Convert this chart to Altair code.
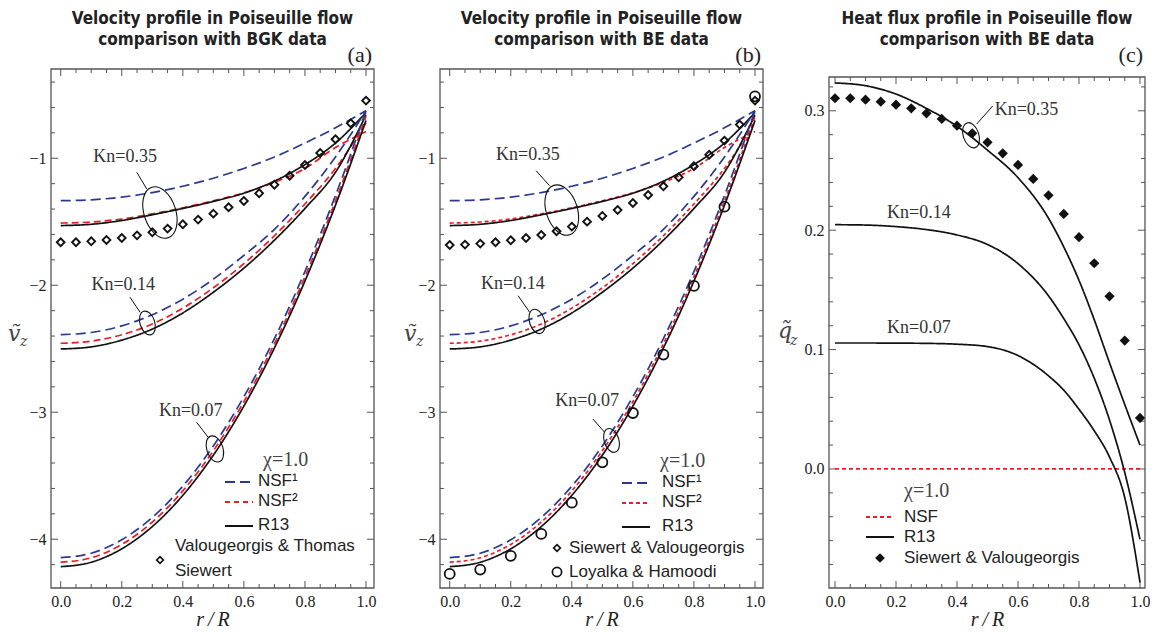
import altair as alt
import pandas as pd

SERIF = "Liberation Serif"
SANS = "Liberation Sans"
TFONT = "Liberation Sans Narrow, DejaVu Sans Condensed, Liberation Sans"
GLYPH = "DejaVu Serif"
BLUE = "#2b3990"
RED = "#ed1c24"
BLACK = "#111111"
INK = "#222222"
FRAME = "#555555"

# ---------------- velocity model curves (panels a, b) ----------------
R = [0.0, 0.1, 0.2, 0.3, 0.4, 0.5, 0.6, 0.7, 0.8, 0.9, 1.0]
V35_NSF1 = [-1.334, -1.327, -1.306, -1.270, -1.220, -1.157, -1.080, -0.990, -0.880, -0.760, -0.625]
V35_NSF2 = [-1.510, -1.502, -1.478, -1.438, -1.390, -1.335, -1.272, -1.190, -1.080, -0.915, -0.790]
V35_R13 = [-1.530, -1.520, -1.490, -1.445, -1.395, -1.340, -1.275, -1.180, -1.050, -0.880, -0.640]
V14_NSF1 = [-2.389, -2.372, -2.320, -2.232, -2.110, -1.952, -1.765, -1.560, -1.300, -0.990, -0.625]
V14_NSF2 = [-2.457, -2.440, -2.390, -2.305, -2.180, -2.020, -1.830, -1.610, -1.360, -1.080, -0.720]
V14_R13 = [-2.502, -2.485, -2.432, -2.345, -2.218, -2.055, -1.865, -1.645, -1.395, -1.110, -0.660]
V07_NSF1 = [-4.145, -4.110, -4.004, -3.828, -3.582, -3.265, -2.878, -2.420, -1.892, -1.294, -0.625]
V07_NSF2 = [-4.181, -4.146, -4.041, -3.865, -3.619, -3.303, -2.917, -2.461, -1.934, -1.337, -0.670]
V07_R13 = [-4.216, -4.181, -4.075, -3.900, -3.654, -3.338, -2.951, -2.494, -1.967, -1.370, -0.702]

# ---------------- kinetic data ----------------
R_DENSE = [0.0, 0.05, 0.1, 0.15, 0.2, 0.25, 0.3, 0.35, 0.4, 0.45, 0.5,
           0.55, 0.6, 0.65, 0.7, 0.75, 0.8, 0.85, 0.9, 0.95, 1.0]
BGK_VT = [-1.661, -1.661, -1.654, -1.643, -1.628, -1.607, -1.583, -1.554, -1.520, -1.483, -1.436,
          -1.386, -1.336, -1.276, -1.208, -1.137, -1.053, -0.958, -0.850, -0.724, -0.546]
BE_SV = [-1.683, -1.680, -1.672, -1.661, -1.646, -1.628, -1.604, -1.575, -1.538, -1.499, -1.454,
         -1.407, -1.352, -1.289, -1.221, -1.150, -1.063, -0.972, -0.861, -0.735, -0.546]
R_LH = [0.0, 0.1, 0.2, 0.3, 0.4, 0.5, 0.6, 0.7, 0.8, 0.9, 1.0]
BE_LH = [-4.273, -4.239, -4.131, -3.958, -3.712, -3.394, -3.006, -2.546, -2.005, -1.381, -0.512]

# ---------------- heat flux (panel c) ----------------
R_HEAT = [0.0, 0.1, 0.2, 0.3, 0.4, 0.5, 0.6, 0.7, 0.75, 0.8, 0.85, 0.9, 0.95, 1.0]
Q35_R13 = [0.3233, 0.3210, 0.3140, 0.3020, 0.2870, 0.2670, 0.2440, 0.2100, 0.1860, 0.1580, 0.1250, 0.0890, 0.0540, 0.0200]
Q14_R13 = [0.2046, 0.2043, 0.2030, 0.2005, 0.1960, 0.1880, 0.1720, 0.1450, 0.1260, 0.1040, 0.0760, 0.0410, -0.0030, -0.0590]
Q07_R13 = [0.1055, 0.1055, 0.1054, 0.1052, 0.1045, 0.1025, 0.0950, 0.0780, 0.0660, 0.0500, 0.0320, 0.0100, -0.0240, -0.0950]
R_NSF = [0.0, 1.0]
Q_NSF = [0.0, 0.0]
HEAT_SV = [0.3105, 0.3105, 0.3093, 0.3076, 0.3051, 0.3021, 0.2979, 0.2932, 0.2875, 0.2811, 0.2736,
           0.2644, 0.2546, 0.2429, 0.2292, 0.2136, 0.1941, 0.1723, 0.1446, 0.1075, 0.0427]

# ---------------- ticks ----------------
X_LABELS = [0.0, 0.2, 0.4, 0.6, 0.8, 1.0]
X_MINOR = [0.05, 0.1, 0.15, 0.25, 0.3, 0.35, 0.45, 0.5, 0.55, 0.65, 0.7, 0.75, 0.85, 0.9, 0.95]
V_LABELS = [-4, -3, -2, -1]
V_MINOR = [-4.2, -3.8, -3.6, -3.4, -3.2, -2.8, -2.6, -2.4, -2.2, -1.8, -1.6, -1.4, -1.2, -0.8, -0.6, -0.4]
Q_LABELS = [0.0, 0.1, 0.2, 0.3]
Q_MINOR = [-0.08, -0.06, -0.04, -0.02, 0.02, 0.04, 0.06, 0.08, 0.12, 0.14, 0.16, 0.18,
           0.22, 0.24, 0.26, 0.28, 0.32]

# ---------------- annotations ----------------
KN_NAMES = ["Kn=0.35", "Kn=0.14", "Kn=0.07"]
A_TXT_R = [0.211, 0.205, 0.426]
A_TXT_V = [-0.99, -2.0, -2.987]
A_ELL_R = [0.325, 0.284, 0.505]
A_ELL_V = [-1.427, -2.297, -3.289]
A_ELL_S = [2809, 600, 729]
A_LEAD = [(0.249, -1.110, 0.282, -1.242), (0.227, -2.094, 0.260, -2.213), (0.445, -3.079, 0.483, -3.197)]
B_TXT_R = [0.256, 0.207, 0.450]
B_TXT_V = [-0.976, -1.99, -2.915]
B_ELL_R = [0.367, 0.286, 0.530]
B_ELL_V = [-1.408, -2.285, -3.222]
B_ELL_S = [2704, 625, 600]
B_LEAD = [(0.283, -1.098, 0.327, -1.216), (0.224, -2.082, 0.262, -2.213), (0.469, -3.053, 0.507, -3.157)]
C_TXT_R = [0.628, 0.275, 0.275]
C_TXT_V = [0.3008, 0.2142, 0.118]
C_ELL_R = [0.446]
C_ELL_V = [0.2795]
C_ELL_S = [676]
C_LEAD = [(0.465, 0.289, 0.517, 0.304)]

# one shared style scale for all model curves
MODELS = ["NSF1", "NSF2a", "NSF2b", "R13", "NSF"]
MODEL_COLORS = [BLUE, RED, RED, BLACK, RED]
MODEL_DASHES = [[10, 5], [7, 4], [4, 3], [1, 0], [4, 3]]

ELLIPSE = "M0,-1A0.6,1,0,1,1,0,1A0.6,1,0,1,1,0,-1Z"
DUMMY = pd.DataFrame({"d": [0]})


def curves(groups):
    rows = []
    for rs, vs, model, kn in groups:
        for r, v in zip(rs, vs):
            rows.append({"r": r, "v": v, "model": model, "kn": kn})
    return pd.DataFrame(rows)


def txt(x, y, s, font, size, align="left", style="normal", color=INK, weight="normal"):
    return alt.Chart(DUMMY).mark_text(text=s, font=font, fontSize=size, align=align,
                                      baseline="middle", fontStyle=style, color=color,
                                      fontWeight=weight).encode(x=alt.value(x), y=alt.value(y))


def seg(x1, x2, y, color, dash, width=1.8):
    return alt.Chart(DUMMY).mark_rule(color=color, strokeDash=dash, strokeWidth=width).encode(
        x=alt.value(x1), x2=alt.value(x2), y=alt.value(y))


def sym(x, y, shape, size, filled, sw=1.7):
    return alt.Chart(DUMMY).mark_point(shape=shape, size=size, filled=filled, color=BLACK,
                                       strokeWidth=sw, opacity=1).encode(x=alt.value(x), y=alt.value(y))


def panel(W, H, top, xdom, ydom, ylabels, yfmt, yminor, ymajor_ticks, line_df,
          extra, title, tag, ann):
    X = alt.X("r:Q", scale=alt.Scale(domain=xdom, nice=False, zero=False),
              axis=alt.Axis(values=X_LABELS, format=".1f", ticks=False, domain=False, grid=False,
                            labelPadding=5, labelFlush=False, title="r\u2009/\u2009R",
                            titleFont=SERIF, titleFontStyle="italic", titleFontWeight="normal",
                            titleFontSize=20, titlePadding=0, titleColor=INK))
    Y = alt.Y("v:Q", scale=alt.Scale(domain=ydom, nice=False, zero=False),
              axis=alt.Axis(values=ylabels, format=yfmt, ticks=False, domain=False, grid=False,
                            labelPadding=5, title=None))
    layers = []
    layers.append(alt.Chart(DUMMY).mark_rect(filled=False, stroke=FRAME, strokeWidth=1.3).encode(
        x=alt.value(0), x2=alt.value(W), y=alt.value(top), y2=alt.value(H)))
    for vals, ln in ((X_MINOR, 4), (X_LABELS, 7)):
        d = pd.DataFrame({"r": vals})
        layers.append(alt.Chart(d).mark_rule(color=FRAME, strokeWidth=1).encode(
            x=X, y=alt.value(H), y2=alt.value(H - ln)))
        layers.append(alt.Chart(d).mark_rule(color=FRAME, strokeWidth=1).encode(
            x=X, y=alt.value(top), y2=alt.value(top + ln)))
    for vals, ln in ((yminor, 4), (ymajor_ticks, 7)):
        d = pd.DataFrame({"v": vals})
        layers.append(alt.Chart(d).mark_rule(color=FRAME, strokeWidth=1).encode(
            y=Y, x=alt.value(0), x2=alt.value(ln)))
        layers.append(alt.Chart(d).mark_rule(color=FRAME, strokeWidth=1).encode(
            y=Y, x=alt.value(W), x2=alt.value(W - ln)))
    layers.append(alt.Chart(line_df).mark_line(strokeWidth=1.7, interpolate="monotone", clip=True).encode(
        x=X, y=Y,
        color=alt.Color("model:N", scale=alt.Scale(domain=MODELS, range=MODEL_COLORS), legend=None),
        strokeDash=alt.StrokeDash("model:N", scale=alt.Scale(domain=MODELS, range=MODEL_DASHES),
                                  legend=None),
        detail="kn:N"))
    for e in extra(X, Y):
        layers.append(e)
    # annotations
    tr, tv, er, ev, es, leads = ann
    tdf = pd.DataFrame({"r": tr, "v": tv, "label": KN_NAMES})
    layers.append(alt.Chart(tdf).mark_text(font=SERIF, fontSize=18, color="#333333").encode(
        x=X, y=Y, text="label:N"))
    edf = pd.DataFrame({"r": er, "v": ev, "s": es, "ang": [342] * len(er)})
    layers.append(alt.Chart(edf).mark_point(shape=ELLIPSE, filled=False, color=BLACK, strokeWidth=1.1,
                                            opacity=1).encode(
        x=X, y=Y, size=alt.Size("s:Q", scale=None), angle=alt.Angle("ang:Q", scale=None)))
    ldf = pd.DataFrame({"r": [l[0] for l in leads], "v": [l[1] for l in leads],
                        "r2": [l[2] for l in leads], "v2": [l[3] for l in leads]})
    layers.append(alt.Chart(ldf).mark_rule(color=BLACK, strokeWidth=1.0).encode(
        x=X, y=Y, x2="r2:Q", y2="v2:Q"))
    layers.append(txt(W - 2, -14, tag, SERIF, 22, align="right", color=INK))
    return alt.layer(*layers).properties(
        width=W, height=H,
        title=alt.TitleParams(title, font=TFONT, fontSize=17, fontWeight="bold", color=INK,
                              anchor="middle", offset=-5, lineHeight=21, frame="group"))


# ---------------- panel a ----------------
WA, HA = 323, 519


def vel_lines(red):
    return curves([
        (R, V35_NSF1, "NSF1", "0.35"), (R, V35_NSF2, red, "0.35"), (R, V35_R13, "R13", "0.35"),
        (R, V14_NSF1, "NSF1", "0.14"), (R, V14_NSF2, red, "0.14"), (R, V14_R13, "R13", "0.14"),
        (R, V07_NSF1, "NSF1", "0.07"), (R, V07_NSF2, red, "0.07"), (R, V07_R13, "R13", "0.07"),
    ])


def extra_a(X, Y):
    d = pd.DataFrame({"r": R_DENSE, "v": BGK_VT})
    out = [alt.Chart(d).mark_point(shape="diamond", size=60, filled=False, color=BLACK,
                                   strokeWidth=1.9, opacity=1).encode(x=X, y=Y)]
    out += [
        txt(-43, 265, "\u1e7d", GLYPH, 22, style="italic", color="#444444"),
        txt(-31, 273, "z", GLYPH, 14, style="italic", color="#444444"),
        txt(212, 391, "\u03c7=1.0", SERIF, 20, color="#444444"),
        seg(174, 202, 413, BLUE, [10, 5]), txt(207, 412, "NSF\u00b9", SANS, 17),
        seg(174, 202, 433, RED, [5, 4]), txt(207, 432, "NSF\u00b2", SANS, 17),
        seg(174, 202, 457, BLACK, [1, 0]), txt(207, 456, "R13", SANS, 17),
        sym(109, 491, "diamond", 45, False),
        txt(124, 477, "Valougeorgis & Thomas", SANS, 17),
        txt(124, 502, "Siewert", SANS, 17),
    ]
    return out


pa = panel(WA, HA, 0, [-0.0318, 1.0262], [-4.384, -0.297], V_LABELS, "d", V_MINOR, V_LABELS,
           vel_lines("NSF2a"), extra_a,
           ["Velocity profile in Poiseuille flow", "comparison with BGK data"], "(a)",
           (A_TXT_R, A_TXT_V, A_ELL_R, A_ELL_V, A_ELL_S, A_LEAD))


# ---------------- panel b ----------------
def extra_b(X, Y):
    d = pd.DataFrame({"r": R_DENSE, "v": BE_SV})
    d2 = pd.DataFrame({"r": R_LH, "v": BE_LH})
    out = [alt.Chart(d).mark_point(shape="diamond", size=60, filled=False, color=BLACK,
                                   strokeWidth=1.9, opacity=1).encode(x=X, y=Y),
           alt.Chart(d2).mark_point(shape="circle", size=100, filled=False, color=BLACK,
                                    strokeWidth=1.8, opacity=1).encode(x=X, y=Y)]
    out += [
        txt(-36, 265, "\u1e7d", GLYPH, 22, style="italic", color="#444444"),
        txt(-24, 273, "z", GLYPH, 14, style="italic", color="#444444"),
        txt(220, 392, "\u03c7=1.0", SERIF, 20, color="#444444"),
        seg(182, 210, 414, BLUE, [10, 5]), txt(222, 413, "NSF\u00b9", SANS, 17),
        seg(182, 210, 434, RED, [4, 3]), txt(222, 433, "NSF\u00b2", SANS, 17),
        seg(182, 210, 458, BLACK, [1, 0]), txt(222, 457, "R13", SANS, 17),
        sym(117, 479, "diamond", 45, False),
        txt(129, 479, "Siewert & Valougeorgis", SANS, 17),
        sym(117, 503, "circle", 85, False),
        txt(129, 503, "Loyalka & Hamoodi", SANS, 17),
    ]
    return out


pb = panel(WA, HA, 0, [-0.0318, 1.0262], [-4.384, -0.297], V_LABELS, "d", V_MINOR, V_LABELS,
           vel_lines("NSF2b"), extra_b,
           ["Velocity profile in Poiseuille flow", "comparison with BE data"], "(b)",
           (B_TXT_R, B_TXT_V, B_ELL_R, B_ELL_V, B_ELL_S, B_LEAD))

# ---------------- panel c ----------------
WC = 316
lines_q = curves([
    (R_NSF, Q_NSF, "NSF", "0"),
    (R_HEAT, Q35_R13, "R13", "0.35"), (R_HEAT, Q14_R13, "R13", "0.14"), (R_HEAT, Q07_R13, "R13", "0.07"),
])


def extra_c(X, Y):
    d = pd.DataFrame({"r": R_DENSE, "v": HEAT_SV})
    out = [alt.Chart(d).mark_point(shape="diamond", size=105, filled=True, color=BLACK,
                                   opacity=1).encode(x=X, y=Y)]
    out += [
        txt(-51, 262, "q\u0303", GLYPH, 22, style="italic", color="#444444"),
        txt(-39, 272, "z", GLYPH, 14, style="italic", color="#444444"),
        txt(75, 422, "\u03c7=1.0", SERIF, 20, color="#444444"),
        seg(37, 65, 448, RED, [4, 3]), txt(75, 448, "NSF", SANS, 17),
        seg(37, 65, 468, BLACK, [1, 0]), txt(75, 468, "R13", SANS, 17),
        sym(51, 489, "diamond", 95, True),
        txt(75, 489, "Siewert & Valougeorgis", SANS, 17),
    ]
    return out


pc = panel(WC, HA, 8, [-0.0197, 1.0164], [-0.0997, 0.335], Q_LABELS, ".1f", Q_MINOR, Q_LABELS,
           lines_q, extra_c,
           ["Heat flux profile in Poiseuille flow", "comparison with BE data"], "(c)",
           (C_TXT_R, C_TXT_V, C_ELL_R, C_ELL_V, C_ELL_S, C_LEAD))

chart = alt.hconcat(pa, pb, pc, spacing=66, bounds="flush").properties(
    padding={"left": 0, "top": 2, "right": 0, "bottom": 0}).configure_view(
    stroke=None).configure_axis(labelFont=SERIF, labelFontSize=16, labelColor=INK)

chart.save("out.html", embed_options={"renderer": "svg", "actions": False})
